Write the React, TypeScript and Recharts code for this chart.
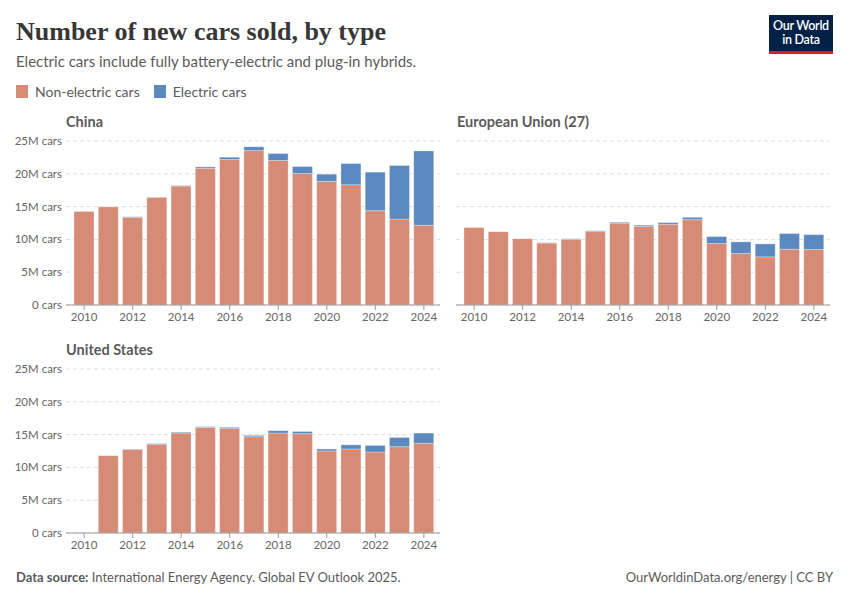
import React from "react";
import { BarChart, Bar, XAxis, YAxis, CartesianGrid } from "recharts";

const years = ["2010","2011","2012","2013","2014","2015","2016","2017","2018","2019","2020","2021","2022","2023","2024"];

const chinaNonElectric = [14.28, 14.99, 13.37, 16.44, 18.13, 20.86, 22.18, 23.54, 22.03, 20.05, 18.84, 18.33, 14.38, 13.11, 12.15];
const chinaElectric = [0.01, 0.01, 0.1, 0.02, 0.07, 0.2, 0.35, 0.58, 1.06, 1.06, 1.1, 3.24, 5.87, 8.15, 11.34];

const euNonElectric = [11.8, 11.19, 10.13, 9.45, 10.03, 11.19, 12.46, 12.0, 12.3, 13.01, 9.37, 7.85, 7.34, 8.51, 8.46];
const euElectric = [0.0, 0.01, 0.02, 0.05, 0.07, 0.12, 0.15, 0.17, 0.26, 0.35, 1.06, 1.77, 1.97, 2.38, 2.27];

const usNonElectric = [null, 11.8, 12.76, 13.52, 15.24, 16.1, 15.95, 14.68, 15.24, 15.14, 12.51, 12.81, 12.35, 13.16, 13.67];
const usElectric = [null, 0.02, 0.05, 0.1, 0.12, 0.11, 0.16, 0.2, 0.36, 0.33, 0.3, 0.63, 1.0, 1.4, 1.56];

const yTicks = [0, 5, 10, 15, 20, 25];
const seriesNames = ["Non-electric cars", "Electric cars"];

const NON_COLOR = "#d68b77";
const EL_COLOR = "#5b88bf";
const FONT = "Lato, 'Noto Sans', sans-serif";

function build(non: (number | null)[], el: (number | null)[]) {
  return years.map((y, i) => ({
    year: y,
    nonElectric: non[i] == null ? null : (non[i] as number) * 1e6,
    electric: el[i] == null ? null : (el[i] as number) * 1e6,
  }));
}

const fmt = (v: number) => (v === 0 ? "0 cars" : `${v / 1e6}M cars`);

function YTick(props: any) {
  const { x, y, payload } = props;
  return (
    <text x={x} y={y} dy={4} textAnchor="end" fill="#666666" fontSize={11.5} fontFamily={FONT}>
      {fmt(payload.value)}
    </text>
  );
}

function Panel({ data, showY, width, marginLeft }: { data: any[]; showY: boolean; width: number; marginLeft: number }) {
  return (
    <BarChart
      width={width}
      height={210}
      data={data}
      margin={{ top: 10, right: 10, bottom: 6, left: marginLeft }}
      barSize={20}
    >
      <CartesianGrid vertical={false} stroke="#dddddd" strokeDasharray="4 3" />
      <YAxis
        hide={!showY}
        width={66}
        domain={[0, 25e6]}
        ticks={yTicks.map((t) => t * 1e6)}
        axisLine={false}
        tickLine={false}
        tickSize={0}
        tickMargin={4}
        tick={<YTick />}
        interval={0}
      />
      <XAxis
        dataKey="year"
        interval={1}
        padding={{ left: 6, right: 4 }}
        axisLine={{ stroke: "#999999" }}
        tickLine={{ stroke: "#999999" }}
        tickSize={5}
        tickMargin={3}
        tick={{ fill: "#666666", fontSize: 11.5, fontFamily: FONT }}
      />
      <Bar dataKey="nonElectric" name={seriesNames[0]} stackId="a" fill={NON_COLOR} stroke="#ffffff" strokeOpacity={0.5} strokeWidth={0.6} isAnimationActive={false} />
      <Bar dataKey="electric" name={seriesNames[1]} stackId="a" fill={EL_COLOR} stroke="#ffffff" strokeOpacity={0.5} strokeWidth={0.6} isAnimationActive={false} />
    </BarChart>
  );
}

export default function App() {
  const china = build(chinaNonElectric, chinaElectric);
  const eu = build(euNonElectric, euElectric);
  const us = build(usNonElectric, usElectric);
  const panelTitle: React.CSSProperties = {
    position: "absolute",
    fontFamily: FONT,
    fontWeight: 700,
    fontSize: 14.5,
    color: "#5b5b5b",
    whiteSpace: "nowrap",
  };
  return (
    <div style={{ position: "absolute", left: 0, top: 0, width: 850, height: 600, background: "#ffffff", overflow: "hidden", fontFamily: FONT }}>
      <div style={{ position: "absolute", left: 16, top: 17, fontFamily: "'Liberation Serif', 'DejaVu Serif', serif", fontWeight: 700, fontSize: 26, color: "#373737", whiteSpace: "nowrap" }}>
        Number of new cars sold, by type
      </div>
      <div style={{ position: "absolute", left: 16, top: 52, fontSize: 15, color: "#5b5b5b", whiteSpace: "nowrap" }}>
        Electric cars include fully battery-electric and plug-in hybrids.
      </div>
      <div style={{ position: "absolute", left: 16, top: 83, display: "flex", alignItems: "center", fontSize: 14, color: "#5b5b5b", whiteSpace: "nowrap" }}>
        <span style={{ display: "inline-block", width: 12, height: 13, background: NON_COLOR, marginRight: 7 }} />
        <span style={{ marginRight: 14 }}>{seriesNames[0]}</span>
        <span style={{ display: "inline-block", width: 12, height: 13, background: EL_COLOR, marginRight: 7 }} />
        <span>{seriesNames[1]}</span>
      </div>
      <div style={{ position: "absolute", left: 769, top: 15, width: 64, height: 36, background: "#002147", borderBottom: "3px solid #ce261e", color: "#ffffff", fontSize: 12.5, fontWeight: 600, lineHeight: "14px", textAlign: "center", display: "flex", flexDirection: "column", justifyContent: "center", letterSpacing: -0.3 }}>
        <div>Our World</div>
        <div>in Data</div>
      </div>

      <div style={{ ...panelTitle, left: 66, top: 113 }}>China</div>
      <div style={{ ...panelTitle, left: 457, top: 113 }}>European Union (27)</div>
      <div style={{ ...panelTitle, left: 66, top: 341 }}>United States</div>

      <div style={{ position: "absolute", left: 0, top: 131 }}>
        <Panel data={china} showY={true} width={450} marginLeft={0} />
      </div>
      <div style={{ position: "absolute", left: 450, top: 131 }}>
        <Panel data={eu} showY={false} width={390} marginLeft={6} />
      </div>
      <div style={{ position: "absolute", left: 0, top: 359 }}>
        <Panel data={us} showY={true} width={450} marginLeft={0} />
      </div>

      <div style={{ position: "absolute", left: 16, top: 569, fontSize: 13, color: "#5b5b5b", whiteSpace: "nowrap" }}>
        <span style={{ fontWeight: 700 }}>Data source:</span> International Energy Agency. Global EV Outlook 2025.
      </div>
      <div style={{ position: "absolute", right: 17, top: 569, fontSize: 13, color: "#5b5b5b", whiteSpace: "nowrap" }}>
        OurWorldinData.org/energy | CC BY
      </div>
    </div>
  );
}
